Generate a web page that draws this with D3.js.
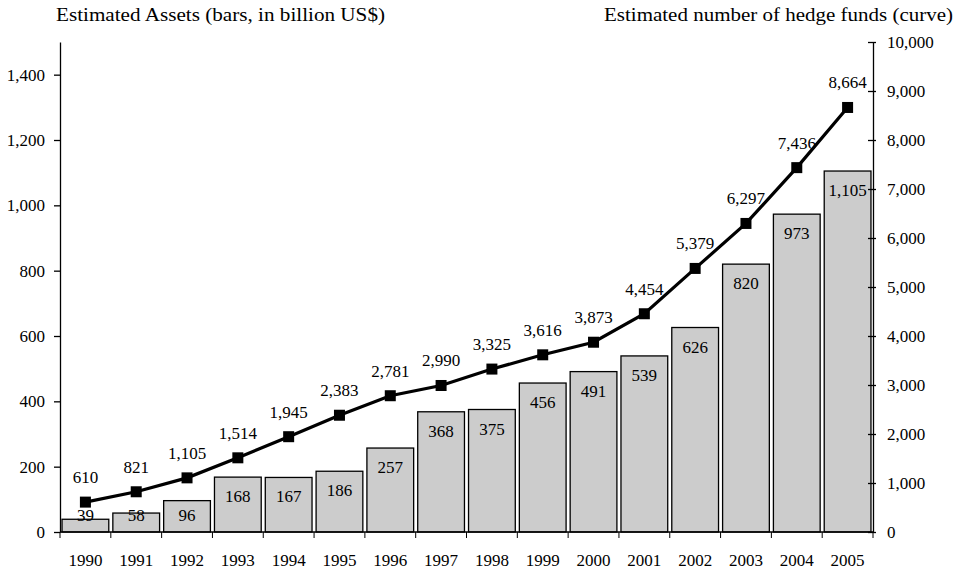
<!DOCTYPE html>
<html>
<head>
<meta charset="utf-8">
<script src="https://cdn.jsdelivr.net/npm/d3@7"></script>
<style>
  body { margin: 0; background: #fff; }
  svg { font-family: "Liberation Serif", "Times New Roman", serif; }
</style>
</head>
<body>
<div id="chart"></div>
<script>
const years = ["1990", "1991", "1992", "1993", "1994", "1995", "1996", "1997",
               "1998", "1999", "2000", "2001", "2002", "2003", "2004", "2005"];
const assets = [39, 58, 96, 168, 167, 186, 257, 368, 375, 456, 491, 539, 626, 820, 973, 1105];
const funds = [610, 821, 1105, 1514, 1945, 2383, 2781, 2990, 3325, 3616, 3873, 4454, 5379, 6297, 7436, 8664];
const leftTicks = [0, 200, 400, 600, 800, 1000, 1200, 1400];
const rightTicks = [0, 1000, 2000, 3000, 4000, 5000, 6000, 7000, 8000, 9000, 10000];

const width = 966, height = 573;
const margin = { top: 42, right: 93, bottom: 41, left: 60 };
const fmt = d3.format(",");
const fs = 17; // number font size

const svg = d3.select("#chart").append("svg")
    .attr("width", width)
    .attr("height", height);

const x = d3.scaleBand().domain(years)
    .range([margin.left, width - margin.right])
    .paddingInner(0.08).paddingOuter(0.04);
const yL = d3.scaleLinear().domain([0, 1500]).range([height - margin.bottom, margin.top]);
const yR = d3.scaleLinear().domain([0, 10000]).range([height - margin.bottom, margin.top]);

// bars
svg.append("g").selectAll("rect")
    .data(assets)
    .join("rect")
    .attr("x", (d, i) => x(years[i]))
    .attr("y", d => yL(d))
    .attr("width", x.bandwidth())
    .attr("height", d => yL(0) - yL(d))
    .attr("fill", "#cccccc")
    .attr("stroke", "#000")
    .attr("stroke-width", 1.3);

// bar labels (inside end, clamped near base)
svg.append("g").selectAll("text")
    .data(assets)
    .join("text")
    .attr("x", (d, i) => x(years[i]) + x.bandwidth() / 2)
    .attr("y", d => Math.min(yL(d) + 25, yL(0) - 11))
    .attr("text-anchor", "middle")
    .attr("font-size", fs)
    .text(d => fmt(d));

// left axis
const gL = svg.append("g")
    .attr("transform", `translate(${margin.left},0)`)
    .call(d3.axisLeft(yL).tickValues(leftTicks).tickFormat(fmt).tickSize(6).tickPadding(9).tickSizeOuter(0));

// right axis
const gR = svg.append("g")
    .attr("transform", `translate(${width - margin.right},0)`)
    .call(d3.axisRight(yR).tickValues(rightTicks).tickFormat(fmt).tickSize(3).tickPadding(11).tickSizeOuter(0));
gR.selectAll(".tick line").attr("x1", -5);

// bottom axis
const base = yL(0);
const gB = svg.append("g")
    .attr("transform", `translate(0,${base})`)
    .call(d3.axisBottom(x).tickSize(0).tickPadding(22).tickSizeOuter(0));
gB.select(".domain").remove();
svg.append("line")
    .attr("x1", margin.left).attr("x2", width - margin.right)
    .attr("y1", base).attr("y2", base)
    .attr("stroke", "#000").attr("stroke-width", 1.3);
const bounds = years.map(y => x(y) - x.step() * x.paddingInner() / 2).concat([width - margin.right]);
svg.append("g").selectAll("line")
    .data(bounds)
    .join("line")
    .attr("x1", d => d).attr("x2", d => d)
    .attr("y1", base).attr("y2", base + 6)
    .attr("stroke", "#000");

[gL, gR, gB].forEach(g => {
    g.selectAll("text").attr("font-size", fs).attr("font-family", "Liberation Serif, serif").attr("fill", "#000");
    g.selectAll("path, line").attr("stroke", "#000").attr("stroke-width", 1.3);
});

// curve
const cx = (d, i) => x(years[i]) + x.bandwidth() / 2;
svg.append("path")
    .datum(funds)
    .attr("fill", "none")
    .attr("stroke", "#000")
    .attr("stroke-width", 3.2)
    .attr("d", d3.line().x(cx).y(d => yR(d)));

const ms = 11;
svg.append("g").selectAll("rect")
    .data(funds)
    .join("rect")
    .attr("x", (d, i) => cx(d, i) - ms / 2)
    .attr("y", d => yR(d) - ms / 2)
    .attr("width", ms).attr("height", ms)
    .attr("fill", "#000");

svg.append("g").selectAll("text")
    .data(funds)
    .join("text")
    .attr("x", cx)
    .attr("y", d => yR(d) - 19)
    .attr("text-anchor", "middle")
    .attr("font-size", fs)
    .text(d => fmt(d));

// titles
svg.append("text")
    .attr("x", 56).attr("y", 21)
    .attr("font-size", 18.5)
    .attr("textLength", 329)
    .attr("lengthAdjust", "spacingAndGlyphs")
    .text("Estimated Assets (bars, in billion US$)");
svg.append("text")
    .attr("x", 604).attr("y", 21)
    .attr("font-size", 18.5)
    .attr("textLength", 349)
    .attr("lengthAdjust", "spacingAndGlyphs")
    .text("Estimated number of hedge funds (curve)");
</script>
</body>
</html>
